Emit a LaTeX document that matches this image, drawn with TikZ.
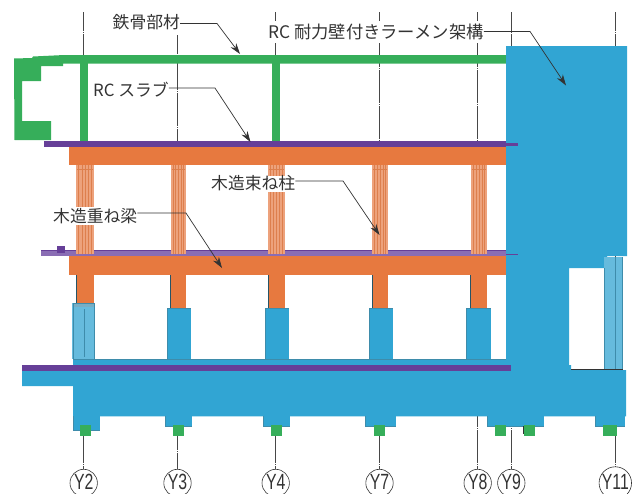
\documentclass[tikz,border=0pt]{standalone}
\usepackage{fontspec}
\usepackage{graphicx}
\setmainfont{Noto Sans CJK JP}
\newfontfamily\gridfont{Liberation Sans}
\definecolor{cblue}{HTML}{31A5D3}
\definecolor{lblue}{HTML}{66BBDD}
\definecolor{edgeblue}{HTML}{3E8CAB}
\definecolor{cgreen}{HTML}{36AE5A}
\definecolor{corange}{HTML}{E7793F}
\definecolor{lorange}{HTML}{EDA27C}
\definecolor{dorange}{HTML}{DD7F4D}
\definecolor{cpurple}{HTML}{663F98}
\definecolor{lpurple}{HTML}{8A6DB4}
\definecolor{txt}{HTML}{333333}
\usetikzlibrary{arrows.meta}
\newcommand{\gridtext}[1]{\raisebox{3pt}{\scalebox{0.72}[1]{#1}}}
\tikzset{
  gridmark/.style={circle,draw=txt,line width=0.6pt,minimum size=27.4pt,inner sep=0pt,font=\gridfont\fontsize{22}{24}\selectfont,text=txt},
  gridline/.style={draw=txt!90,line width=0.8pt,dash pattern=on 33pt off 1pt on 1pt off 1pt,dash phase=14pt},
  callout/.style={fill=white,inner sep=0pt,text=txt,font=\fontsize{16.8}{18}\selectfont,anchor=west},
  leader/.style={draw=txt,line width=0.7pt,-{Stealth[length=11pt,width=7pt]}},
  rc/.style={fill=cblue},
  steel/.style={fill=cgreen},
  wood/.style={fill=corange},
  slab/.style={fill=cpurple},
  hatchline/.style={draw=dorange,line width=0.5pt},
  edgeline/.style={draw=edgeblue,line width=0.6pt},
}
\begin{document}
\begin{tikzpicture}[x=1pt,y=-1pt]
\useasboundingbox (0,0) rectangle (636,493);
% grid marks and lines
\foreach \n/\gx/\gtop in {Y2/83.7/12,Y3/177.5/35,Y4/275.7/12,Y7/379.5/12,Y8/477.7/12,Y9/511.3/12,Y11/615.3/12}{
  \node[gridmark] (\n) at (\gx,483) {\gridtext{\n}};
  \coordinate (\n top) at (\gx,\gtop);
  \draw[gridline] (\n top) -- (\n.north);
}
% steel frame
\fill[steel] (14,58.5) -- (32,58) -- (33,56.5) -- (60,55.2) -- (506,55.2) -- (506,63.7) -- (63,63.7) -- (63,66) -- (41,66) -- (41,81) -- (22,81) -- (22,121) -- (51,121) -- (51,140) -- (14.5,140) -- cycle;
\fill[steel] (80,60) rectangle (88,143.5);
\fill[steel] (272,60) rectangle (280,143.5);
% top slab and beam
\fill[slab] (44,141) rectangle (506,147);
\fill[wood] (69,147) rectangle (506,165);
% mid slab and beam
\fill[lpurple] (41,250) rectangle (506,255.7);
\draw[cpurple,line width=0.5pt] (41,250.3) -- (506,250.3);
\fill[slab] (57,246) rectangle (65,252.7);
\fill[wood] (69,255.5) rectangle (506,275.3);
% timber posts
\foreach \xa/\xb in {76/94,170.5/186,268/285,372/388,470.7/487}{
  \fill[lorange] (\xa,165) rectangle (\xb,254);
  \foreach \k in {0.15,0.32,0.5,0.68,0.85}{
    \draw[hatchline] ({\xa+\k*(\xb-\xa)},165) -- ({\xa+\k*(\xb-\xa)},254);
  }
  \draw[hatchline] (\xa+1,169) -- (\xb-1,169);
  \fill[wood] (\xa,275) rectangle (\xb,310);
  \draw[edgeblue!60!black,line width=0.5pt] (\xa,275) -- (\xa,308);
}
% RC wall, floor and foundations
\fill[rc] (506,46) -- (627,46) -- (627,256) -- (607,256) -- (607,268) -- (569,268) -- (569,365) -- (571,365) -- (571,370) -- (626,370) -- (626,416.3) -- (73,416.3) -- (73,386) -- (22,386) -- (22,371) -- (73,371) -- (73,359) -- (506,359) -- cycle;
\foreach \xa/\xb in {167/191,265/289,369/393,466.7/491}{
  \fill[rc] (\xa,308) rectangle (\xb,360);
  \draw[edgeline] (\xa,308) -- (\xb,308);
  \draw[edgeline] (\xa,308) -- (\xa,359);
}
\draw[edgeline] (73,359) -- (506,359);
\foreach \xa/\xb/\yb in {73/100/430,165/192/426.6,263/290/426.6,365.7/396/426.6,487/544/426.6,595/625/426.6}{
  \fill[rc] (\xa,416) rectangle (\xb,\yb);
  \draw[edgeline] (\xa,416.3) -- (\xa,\yb) -- (\xb,\yb);
}
\fill[slab] (22,365.3) rectangle (511,371.3);
\fill[slab] (506,143.3) rectangle (518,146);
\draw[cpurple,line width=0.5pt] (506,254) -- (518,254);
% hatched concrete columns
\fill[lblue] (72,303) rectangle (95,359);
\draw[edgeblue,line width=1pt] (73,359) -- (73,303.5) -- (94.5,303.5) -- (94.5,359);
\fill[edgeblue!70] (74,303.5) rectangle (94,307);
\draw[edgeblue,line width=0.7pt] (84,309) -- (84,357);
\fill[lblue] (604,257) rectangle (623,370);
\draw[edgeblue,line width=1pt] (604,268) -- (604,370);
\draw[edgeblue,line width=0.8pt] (615.3,257) -- (615.3,370);
\draw[edgeblue,line width=0.8pt] (622.6,257) -- (622.6,370);
\draw[txt,line width=0.8pt] (571,369.8) -- (623,369.8);
% green anchors
\draw[txt,line width=0.7pt] (523.3,426) -- (523.3,434);
\foreach \xa/\xb in {80/91,173/184,271/282,374/385,495/506,524/535,603/617}{
  \fill[steel] (\xa,425) rectangle (\xb,436);
}
% callouts
\node[callout] (steel) at (112.5,22.5) {鉄骨部材};
\node[callout] (slabtxt) at (93,90) {RC スラブ};
\node[callout,minimum height=22pt,font=\fontsize{17.3}{18}\selectfont] (frame) at (268,31.5) {RC 耐力壁付きラーメン架構};
\node[callout,minimum height=16pt] (post) at (211,183.5) {木造束ね柱};
\node[callout,minimum height=18pt] (beam) at (53,216) {木造重ね梁};
\coordinate (steelend) at (240,54);
\coordinate (slabend) at (250.5,142);
\coordinate (frameend) at (566,85.5);
\coordinate (postend) at (379.5,235);
\coordinate (beamend) at (222,268);
\draw[leader] ([yshift=-1pt]steel.east) -- (217,23.5) -- (steelend);
\draw[leader] ([yshift=2pt]slabtxt.east) -- (215,88) -- (slabend);
\draw[leader] (frame.east) -- (530,31.5) -- (frameend);
\draw[leader] ([yshift=2.5pt]post.east) -- (343,181) -- (postend);
\draw[leader] ([yshift=3pt]beam.east) -- (186,213) -- (beamend);
\end{tikzpicture}
\end{document}
